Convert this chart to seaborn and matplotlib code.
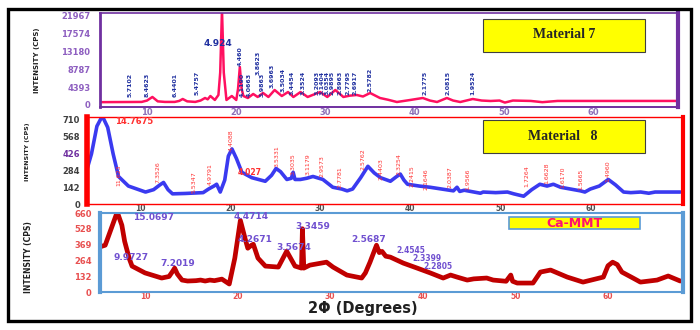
import matplotlib
matplotlib.use('Agg')
import matplotlib.pyplot as plt
import seaborn as sns
import pandas as pd
from matplotlib.patches import Rectangle

# ---- Material 7 (2theta, counts) ----
m7_theta = [4.8, 6.0, 8.0, 9.4, 10.0, 10.6, 11.2, 12.0, 13.1, 13.6, 14.0, 14.5, 15.4, 16.0, 16.5,
            16.8, 17.1, 17.6, 18.0, 18.2, 18.4, 18.6, 18.9, 19.5, 20.0, 20.2, 20.4, 20.6, 20.8,
            21.3, 21.9, 22.4, 23.0, 23.6, 24.3, 25.1, 25.8, 26.4, 27.2, 28.0, 28.7, 29.4, 30.2,
            31.1, 32.0, 32.7, 33.5, 34.2, 35.0, 36.1, 37.0, 38.0, 39.5, 40.9, 41.7, 42.5, 43.6,
            44.3, 45.1, 46.5, 47.5, 48.5, 49.5, 50.1, 51.0, 53.0, 54.3, 56.0, 60.0, 65.0, 69.5]
m7_counts = [700, 720, 740, 760, 1100, 1980, 900, 760, 760, 1000, 1480, 900, 760, 1100, 1730,
             1400, 2220, 1240, 2470, 8000, 23500, 8000, 1240, 2220, 1240, 4000, 9400, 4000, 2220,
             1730, 2720, 1980, 2960, 1980, 3700, 2220, 3200, 1980, 3200, 1980, 2600, 3200, 1980,
             3700, 1980, 2300, 2470, 2100, 2960, 1730, 1300, 740, 1240, 1730, 1100, 740, 1730,
             1100, 740, 1480, 1100, 990, 1100, 600, 1100, 1000, 700, 1000, 1000, 1000, 1000]
m7_yticks = [0, 4393, 8787, 13180, 17574, 21967]
m7_peak_pos = [8.1, 10.0, 13.1, 15.6, 20.4, 20.7, 21.5, 22.4, 22.9, 24.0, 25.2, 26.3, 27.5,
               29.1, 29.6, 30.2, 30.7, 31.6, 32.5, 33.3, 35.0, 41.2, 43.7, 46.5]
m7_peak_y = [2000, 2000, 2000, 2400, 9600, 2000, 2000, 7400, 2000, 4200, 3300, 2400, 2400,
             2400, 2400, 2400, 2400, 2400, 2400, 2400, 3200, 2400, 2400, 2400]
m7_peak_text = ['5.7102', '8.4623', '6.4401', '5.4757', '4.460', '4.1190', '4.0663', '3.8623',
                '3.9863', '3.6963', '3.5034', '3.4454', '3.3524', '3.2093', '3.1404', '3.0354',
                '2.9895', '2.8963', '2.7795', '2.6917', '2.5782', '2.1775', '2.0815', '1.9524']

# ---- Material 8 ----
m8_theta = [4.1, 4.6, 5.2, 5.8, 6.4, 7.0, 7.6, 8.7, 10.6, 11.5, 12.2, 12.6, 13.1, 13.6, 15.0,
            17.0, 17.6, 18.2, 18.5, 18.9, 19.4, 19.8, 20.2, 20.7, 21.3, 22.4, 23.9, 24.6, 25.1,
            25.6, 26.3, 26.8, 27.0, 27.2, 27.8, 28.5, 29.2, 30.3, 31.4, 32.4, 33.0, 33.6, 34.5,
            35.3, 36.0, 36.7, 37.8, 38.5, 38.9, 39.3, 39.7, 41.0, 42.2, 43.5, 44.8, 45.2, 45.5,
            46.0, 47.8, 48.1, 49.5, 50.8, 51.5, 52.6, 53.5, 54.4, 55.2, 55.9, 56.7, 57.8, 58.9,
            59.4, 60.0, 61.0, 62.0, 62.8, 63.7, 64.5, 65.6, 66.5, 67.2, 68.1, 70.0]
m8_counts = [290, 420, 650, 735, 640, 420, 230, 150, 100, 120, 160, 180, 120, 85, 88,
             95, 125, 150, 165, 100, 200, 400, 460, 380, 265, 220, 190, 240, 297,
             270, 205, 215, 265, 205, 205, 215, 230, 205, 140, 125, 110, 125, 220,
             315, 260, 220, 190, 230, 250, 200, 165, 150, 140, 125, 110, 140, 105,
             115, 90, 100, 95, 100, 85, 65, 120, 165, 150, 165, 140, 125, 110,
             100, 125, 150, 205, 160, 100, 95, 100, 90, 100, 100, 100]
m8_yticks = [0, 142, 284, 426, 568, 710]
m8_peak_pos = [7.6, 12.0, 16.0, 17.8, 20.1, 25.2, 27.0, 28.6, 30.2, 32.2, 34.8, 36.8, 38.7,
               40.2, 41.7, 44.4, 46.4, 53.0, 55.2, 56.9, 58.9, 62.0]
m8_peak_y = [240, 264, 182, 248, 537, 396, 330, 330, 314, 223, 372, 289, 330,
             231, 206, 223, 206, 231, 256, 223, 206, 272]
m8_peak_text = ['11.623', '7.3526', '5.5347', '4.9791', '4.4088', '3.5331', '3.3035', '3.1179',
                '2.9573', '2.7781', '2.5762', '2.4403', '2.3254', '2.2415', '2.1646', '2.0387',
                '1.9566', '1.7264', '1.6628', '1.6170', '1.5665', '1.4960']

# ---- Ca-MMT ----
ca_theta = [5.2, 5.7, 6.3, 7.0, 7.5, 7.8, 8.3, 8.6, 10.0, 11.8, 12.6, 13.0, 13.2, 13.5, 14.0,
            14.6, 15.5, 16.0, 16.5, 17.0, 17.5, 18.3, 19.1, 19.7, 20.3, 20.8, 21.1, 21.5, 21.7,
            22.2, 23.0, 24.4, 25.3, 26.2, 26.9, 27.0, 27.15, 27.8, 29.6, 30.3, 31.8, 33.4, 33.8,
            34.3, 35.0, 35.3, 35.6, 36.0, 36.5, 37.9, 39.4, 40.8, 42.2, 43.0, 43.7, 44.8, 45.5,
            46.9, 47.6, 49.0, 49.5, 49.7, 50.2, 51.9, 52.7, 53.8, 55.6, 57.3, 59.5, 60.0, 60.5,
            61.0, 61.5, 62.7, 63.5, 65.3, 66.5, 67.8]
ca_counts = [380, 392, 520, 670, 560, 425, 280, 217, 160, 117, 130, 175, 200, 150, 100,
             92, 95, 100, 92, 100, 95, 108, 67, 284, 600, 450, 367, 392, 400,
             284, 217, 209, 342, 217, 200, 530, 200, 225, 250, 209, 142, 117, 160,
             250, 392, 330, 340, 300, 292, 242, 200, 160, 117, 142, 125, 100, 110,
             117, 100, 90, 142, 90, 75, 75, 167, 184, 125, 83, 125, 220, 250,
             230, 167, 117, 83, 100, 134, 92]
ca_yticks = [0, 132, 264, 396, 528, 660]
ca_ytick_text = ['0', '132', '264', '369', '528', '660']
ca_peak_pos = [8.7, 6.6, 11.7, 19.6, 20.0, 24.2, 26.2, 32.3, 37.2, 38.9, 40.1]
ca_peak_y = [625, 285, 235, 630, 440, 375, 545, 440, 348, 280, 212]
ca_peak_text = ['15.0697', '9.9727', '7.2019', '4.4714', '4.2671', '3.5674', '3.3459',
                '2.5687', '2.4545', '2.3399', '2.2805']
ca_peak_size = [6.5, 6.5, 6.5, 6.5, 6.5, 6.5, 6.5, 6.5, 5.5, 5.5, 5.5]

xticks = [10, 20, 30, 40, 50, 60]

sns.set_style('white')
plt.rcParams['font.family'] = ['DejaVu Sans']

fig = plt.figure(figsize=(7, 3.3), dpi=100)
W, H = 700.0, 330.0


def box(l, t, r, b):
    return [l / W, 1 - b / H, (r - l) / W, (b - t) / H]


ax1 = fig.add_axes(box(100, 13, 678, 107))
ax2 = fig.add_axes(box(87, 117, 683, 204))
ax3 = fig.add_axes(box(100, 213, 683, 292))

df7 = pd.DataFrame({'theta': m7_theta, 'counts': m7_counts})
df8 = pd.DataFrame({'theta': m8_theta, 'counts': m8_counts})
dfc = pd.DataFrame({'theta': ca_theta, 'counts': ca_counts})

sns.lineplot(data=df7, x='theta', y='counts', ax=ax1, color='#FF1060', lw=1.8,
             estimator=None, sort=False)
sns.lineplot(data=df8, x='theta', y='counts', ax=ax2, color='#3A3AF0', lw=2.6,
             estimator=None, sort=False)
sns.lineplot(data=dfc, x='theta', y='counts', ax=ax3, color='#C00000', lw=3.4,
             estimator=None, sort=False)

ax1.set_xlim(4.73, 69.5)
ax1.set_ylim(-494, 22707)
ax2.set_xlim(4.1, 70.3)
ax2.set_ylim(0, 727)
ax3.set_xlim(5.14, 68.1)
ax3.set_ylim(0, 662)

spine_style = [
    (ax1, '#7030A0', {'left': 2, 'right': 3, 'top': 1.2, 'bottom': 1.4}),
    (ax2, '#FF0000', {'left': 4, 'right': 3, 'top': 1, 'bottom': 1}),
    (ax3, '#5B9BD5', {'left': 3, 'right': 3, 'top': 1.5, 'bottom': 1.5}),
]
for ax, c, widths in spine_style:
    for side, lw in widths.items():
        ax.spines[side].set_visible(True)
        ax.spines[side].set_color(c)
        ax.spines[side].set_linewidth(lw)
    ax.set_xlabel('')
    ax.set_ylabel('')
    ax.set_xticks(xticks)
    ax.tick_params(length=0)
    ax.grid(False)

tick_font = dict(fontsize=6, fontweight='bold')
ax1.set_yticks(m7_yticks)
ax1.set_yticklabels([str(v) for v in m7_yticks], color='#8E5FC0', **tick_font)
ax1.set_xticklabels([str(v) for v in xticks], color='#8E70B8', **tick_font)
ax1.tick_params(axis='y', pad=7)
ax1.tick_params(axis='x', pad=0.5)

ax2.set_yticks(m8_yticks)
ax2.set_yticklabels([str(v) for v in m8_yticks], color='#404040', **tick_font)
ax2.get_yticklabels()[3].set_color('#7030A0')
ax2.set_xticklabels([str(v) for v in xticks], color='#505050', fontsize=5.5, fontweight='bold')
ax2.tick_params(axis='y', pad=5)
ax2.tick_params(axis='x', pad=0.2)

ax3.set_yticks(ca_yticks)
ax3.set_yticklabels(ca_ytick_text, color='#E85050', **tick_font)
ax3.set_xticklabels([str(v) for v in xticks], color='#E85050', fontsize=5.5, fontweight='bold')
ax3.tick_params(axis='y', pad=6)
ax3.tick_params(axis='x', pad=0.3)

narrow = ['Liberation Sans Narrow', 'DejaVu Sans']

# peak annotations
for x, y, t in zip(m7_peak_pos, m7_peak_y, m7_peak_text):
    ax1.text(x, y, t, rotation=90, ha='center', va='bottom', fontsize=4.5,
             color='#2030A0', fontweight='bold', family=narrow)
ax1.text(18.0, 15070, '4.924', ha='center', va='center', fontsize=6.5,
         color='#2030A0', fontweight='bold')

for x, y, t in zip(m8_peak_pos, m8_peak_y, m8_peak_text):
    ax2.text(x, y, t, rotation=90, ha='center', va='center', fontsize=4.5,
             color='#FF3030', family=narrow)
ax2.text(7.2, 686, '14.7675', ha='left', va='center', fontsize=6,
         color='#FF3030', fontweight='bold')
ax2.text(20.8, 264, '4.027', ha='left', va='center', fontsize=5.5,
         color='#FF3030', fontweight='bold')

for x, y, t, fs in zip(ca_peak_pos, ca_peak_y, ca_peak_text, ca_peak_size):
    ax3.text(x, y, t, ha='left', va='center', fontsize=fs,
             color='#7050D0', fontweight='bold')

# y axis titles
for (px, py, fs) in [(37, 60, 5), (28, 152, 4.5), (28, 257, 5.5)]:
    fig.text(px / W, 1 - py / H, 'INTENSITY (CPS)', rotation=90, ha='center', va='center',
             fontsize=fs, fontweight='bold', family=narrow, color='#202020')

fig.text(363 / W, 1 - 308 / H, '2\u03a6 (Degrees)', ha='center', va='center',
         fontsize=10.5, fontweight='bold', color='#202020')

# legend boxes
fig.patches.append(Rectangle((483 / W, 1 - 52 / H), 162 / W, 33 / H, transform=fig.transFigure,
                             facecolor='#FFFF00', edgecolor='#404040', lw=0.8))
fig.text(564 / W, 1 - 35 / H, 'Material 7', ha='center', va='center', fontsize=10,
         fontweight='bold', family=['Liberation Serif', 'DejaVu Serif'])
fig.patches.append(Rectangle((483 / W, 1 - 153 / H), 162 / W, 33 / H, transform=fig.transFigure,
                             facecolor='#FFFF00', edgecolor='#404040', lw=0.8))
fig.text(563 / W, 1 - 137 / H, 'Material   8', ha='center', va='center', fontsize=10,
         fontweight='bold', family=['Liberation Serif', 'DejaVu Serif'])
fig.patches.append(Rectangle((509 / W, 1 - 229 / H), 131 / W, 12 / H, transform=fig.transFigure,
                             facecolor='#FFFF00', edgecolor='#5B9BD5', lw=1.2))
fig.text(574 / W, 1 - 223.5 / H, 'Ca-MMT', ha='center', va='center', fontsize=9,
         fontweight='bold', color='#FF1070')

# outer frame
fig.patches.append(Rectangle((8 / W, 1 - 321 / H), 683 / W, 312 / H, transform=fig.transFigure,
                             facecolor='none', edgecolor='black', lw=2.4))

fig.savefig('out.png', dpi=100)
